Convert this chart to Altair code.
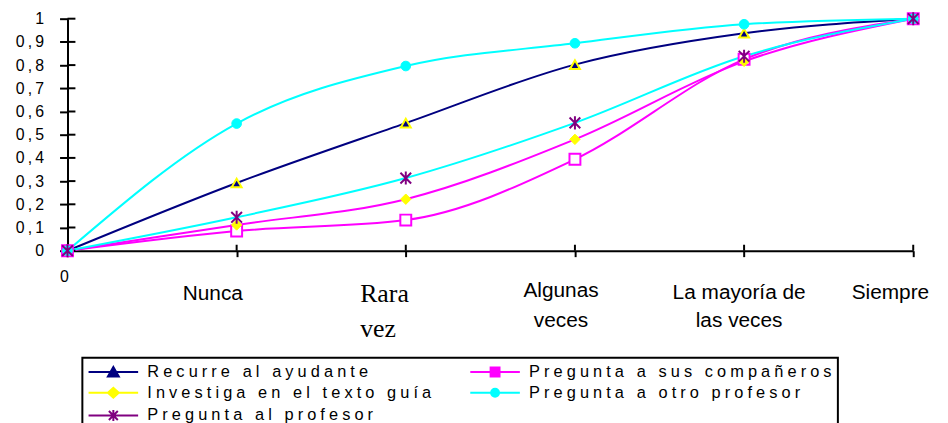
import altair as alt
import pandas as pd

# ---------------- data ----------------
categories = ["0", "Nunca", "Rara vez", "Algunas veces", "La mayoría de las veces", "Siempre"]
x_labels = ["0", "Nunca", "Rara\nvez", "Algunas\nveces", "La mayoría de\nlas veces", "Siempre"]
series = [
    "Recurre al ayudante",
    "Pregunta a sus compañeros",
    "Investiga en el texto guía",
    "Pregunta a otro profesor",
    "Pregunta al profesor",
]
recurre = [0, 0.292, 0.55, 0.802, 0.937, 1]
companeros = [0, 0.085, 0.132, 0.394, 0.825, 1]
investiga = [0, 0.111, 0.222, 0.48, 0.816, 1]
otro_profesor = [0, 0.548, 0.796, 0.894, 0.976, 1]
profesor = [0, 0.144, 0.313, 0.551, 0.838, 1]
y_ticks = [0, 0.1, 0.2, 0.3, 0.4, 0.5, 0.6, 0.7, 0.8, 0.9, 1]

values_by_series = [recurre, companeros, investiga, otro_profesor, profesor]
rows = []
for s, vals in zip(series, values_by_series):
    for c, v in zip(categories, vals):
        rows.append({"series": s, "cat": c, "value": v})
df = pd.DataFrame(rows)
lab_df = pd.DataFrame({"cat": categories, "label": x_labels})
tick_df = pd.DataFrame({"value": y_ticks})

# ---------------- styles ----------------
NAVY, MAG, YEL, CYAN, PURP = "#000080", "#FF00FF", "#FFFF00", "#00FFFF", "#800080"
W, H = 853, 234
FONT = "Liberation Sans"

line_colors = [NAVY, MAG, MAG, CYAN, CYAN]
# legend is laid out column by column: left column first, then right column
legend_order = [series[0], series[2], series[4], series[1], series[3]]
legend_colors = [NAVY, YEL, PURP, MAG, CYAN]
legend_shapes = [
    "M-5,0H5M0,-1L1.1,0.9L-1.1,0.9Z",
    "M-5,0H5M-1.1,0L0,-1L1.1,0L0,1Z",
    "M-5,0H5M-0.9,-0.9L0.9,0.9M-0.9,0.9L0.9,-0.9M0,-1.1V1.1",
    "M-5,0H5M-0.9,-0.9H0.9V0.9H-0.9Z",
    "M-5,0H5M-0.8,0A0.8,0.8 0 1,0 0.8,0A0.8,0.8 0 1,0 -0.8,0Z",
]
star_path = "M-0.9,-0.9L0.9,0.9M-0.9,0.9L0.9,-0.9M0,-1.1V1.1"

xscale = alt.Scale(type="point", domain=categories, padding=0)
yscale = alt.Scale(domain=[0, 1], nice=False, zero=True)


def X():
    return alt.X(
        "cat:N",
        scale=xscale,
        sort=categories,
        axis=alt.Axis(
            labels=False, title=None, grid=False, domainColor="black", domainWidth=2,
            tickColor="black", tickWidth=2, tickSize=6,
        ),
    )


def Y():
    return alt.Y(
        "value:Q",
        scale=yscale,
        axis=alt.Axis(
            values=y_ticks, format=".1~f",
            labelExpr="replace(datum.label, '.', '\u2009,\u2009')",
            labelOverlap=False,
            title=None, grid=False, domainColor="black", domainWidth=2,
            tickColor="black", tickWidth=2, tickSize=8, labelPadding=16,
            labelFont=FONT, labelFontSize=16, labelColor="black",
        ),
    )


base = alt.Chart(df)

lines = base.mark_line(interpolate="monotone", strokeWidth=2).encode(
    x=X(), y=Y(),
    color=alt.Color("series:N", scale=alt.Scale(domain=series, range=line_colors), legend=None),
    detail="series:N",
)

# inward halves of the tick marks
y_in_ticks = alt.Chart(tick_df).mark_rule(color="black", strokeWidth=2).encode(
    y=Y(), x=alt.value(0), x2=alt.value(8)
)
x_in_ticks = alt.Chart(lab_df).mark_rule(color="black", strokeWidth=2).encode(
    x=X(), y=alt.value(H - 6), y2=alt.value(H)
)

def pts(name, **kw):
    return base.transform_filter(alt.datum.series == name).mark_point(opacity=1, **kw).encode(x=X(), y=Y())

m_tri = pts(series[0], shape="triangle-up", filled=True, fill=NAVY, stroke=YEL, strokeWidth=2, size=100)
m_sq = pts(series[1], shape="square", filled=True, fill="white", stroke=MAG, strokeWidth=2, size=121)
m_dia = pts(series[2], shape="diamond", filled=True, fill=YEL, stroke=YEL, strokeWidth=1, size=110)
m_cir = pts(series[3], shape="circle", filled=True, fill=CYAN, stroke=CYAN, strokeWidth=1, size=95)
m_star = pts(series[4], shape=star_path, filled=False, color=PURP, strokeWidth=2, size=144)

leg = alt.Legend(
    title=None, orient="none", legendX=15, legendY=342, columns=2,
    symbolSize=100, symbolStrokeWidth=2, symbolOffset=17, labelOffset=26,
    symbolOpacity=1,
    labelFont=FONT, labelFontSize=16.5, labelColor="black", labelLimit=500,
    labelExpr="join(split(datum.label, ''), '\u2005')",
    rowPadding=3, columnPadding=34, padding=6, strokeColor="black",
)
# invisible layer that only carries the legend
legend_layer = base.mark_point(filled=True, opacity=0).encode(
    x=X(), y=Y(),
    fill=alt.Fill("series:N", scale=alt.Scale(domain=legend_order, range=legend_colors), legend=leg),
    stroke=alt.Stroke("series:N", scale=alt.Scale(domain=legend_order, range=legend_colors), legend=leg),
    shape=alt.Shape("series:N", scale=alt.Scale(domain=legend_order, range=legend_shapes), legend=leg),
)

# x category labels (styled individually like the original)
label_styles = [
    dict(font=FONT, fontSize=16, dx=-3, y=266, align="center", lineHeight=20),
    dict(font=FONT, fontSize=21, dx=-24, y=284, align="center", lineHeight=30),
    dict(font="Liberation Serif", fontSize=26, dx=-46, y=286, align="left", lineHeight=35),
    dict(font=FONT, fontSize=21, dx=-14, y=281, align="center", lineHeight=30),
    dict(font=FONT, fontSize=21, dx=-5, y=283, align="center", lineHeight=28),
    dict(font=FONT, fontSize=21, dx=-23, y=283, align="center", lineHeight=30),
]
label_layers = []
for c, st in zip(categories, label_styles):
    st = dict(st)
    yy = st.pop("y")
    label_layers.append(
        alt.Chart(lab_df).transform_filter(alt.datum.cat == c)
        .mark_text(baseline="alphabetic", color="black", lineBreak="\n", **st)
        .encode(x=X(), y=alt.value(yy), text="label:N")
    )

chart = alt.layer(
    legend_layer, lines, y_in_ticks, x_in_ticks, m_tri, m_sq, m_dia, m_cir, m_star, *label_layers
).properties(
    width=W, height=H,
    autosize=alt.AutoSizeParams(type="none"),
    padding={"left": 60, "top": 9, "right": 27, "bottom": 172},
    background="white",
).configure_view(strokeWidth=0).configure_legend(strokeWidth=2)

chart.save("out.html", embed_options={"renderer": "svg", "actions": False})
